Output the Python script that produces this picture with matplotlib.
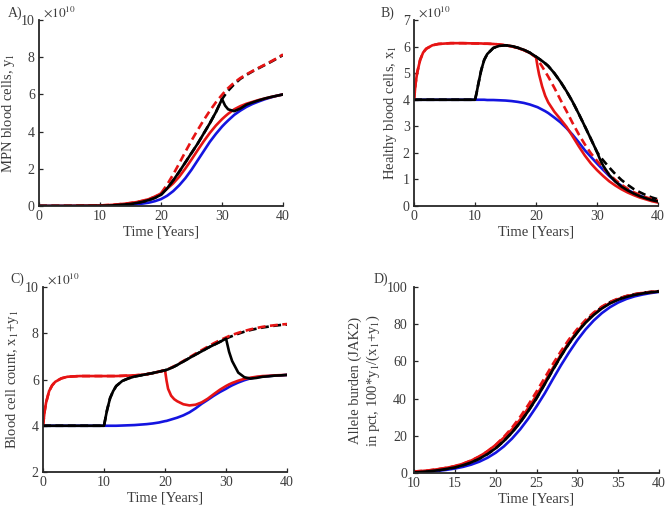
import matplotlib
matplotlib.use('Agg')
import matplotlib.pyplot as plt

# ---- panel A: MPN blood cells y1 (x 1e10)
a_t = [0, 5, 10, 12, 14, 15, 16, 17, 18, 19, 20, 21, 22, 23, 24, 25, 26, 27, 28, 29, 30,
       30.5, 31, 32, 33, 34, 35, 36, 37, 38, 39, 40]
a_blue = [0, 0, 0.01, 0.03, 0.05, 0.07, 0.1, 0.13, 0.18, 0.26, 0.37, 0.55, 0.8, 1.12, 1.5, 1.95,
          2.45, 2.95, 3.45, 3.88, 4.27, 4.44, 4.6, 4.9, 5.13, 5.33, 5.49, 5.62, 5.74, 5.84, 5.93, 6.0]
a_red = [0, 0.005, 0.03, 0.06, 0.12, 0.16, 0.21, 0.28, 0.37, 0.5, 0.68, 0.93, 1.22, 1.58, 2.02, 2.5,
         3.0, 3.48, 3.93, 4.33, 4.67, 4.82, 4.96, 5.2, 5.37, 5.5, 5.6, 5.7, 5.78, 5.86, 5.93, 6.0]
a_red_dash = [0, 0.005, 0.03, 0.06, 0.12, 0.16, 0.21, 0.28, 0.37, 0.5, 0.68, 1.15, 1.7, 2.3, 2.92,
              3.52, 4.08, 4.62, 5.12, 5.58, 5.98, 6.17, 6.34, 6.64, 6.88, 7.08, 7.26, 7.43, 7.6,
              7.77, 7.95, 8.15]
a_black = [0, 0, 0.01, 0.03, 0.08, 0.11, 0.16, 0.23, 0.32, 0.44, 0.6, 0.95, 1.38, 1.85, 2.35, 2.85,
           3.35, 3.9, 4.45, 5.05, 5.75, 5.4, 5.2, 5.1, 5.24, 5.45, 5.57, 5.68, 5.78, 5.86, 5.93, 6.0]
a_black_dash = [0, 0, 0.01, 0.03, 0.08, 0.11, 0.16, 0.23, 0.32, 0.44, 0.6, 0.95, 1.38, 1.85, 2.35,
                2.85, 3.35, 3.9, 4.45, 5.05, 5.75, 5.98, 6.2, 6.55, 6.84, 7.05, 7.24, 7.41, 7.58,
                7.75, 7.93, 8.12]

# ---- panels B and C share a time grid
bc_t = [0, 0.25, 0.5, 1, 1.5, 2, 3, 4, 6, 8, 10, 10.25, 10.5, 11, 11.5, 12, 13, 14, 15, 16, 17,
        18, 19, 20, 20.25, 20.5, 21, 21.5, 22, 23, 24, 25, 26, 27, 28, 29, 30, 30.5, 31, 32, 33,
        34, 35, 36, 37, 38, 39, 40]

# panel B: healthy blood cells x1 (x 1e10)
b_blue = [4.0] * 15 + [3.99, 3.99, 3.98, 3.97, 3.95, 3.92, 3.88, 3.82, 3.74, 3.72, 3.69, 3.63,
                       3.57, 3.5, 3.33, 3.15, 2.93, 2.68, 2.4, 2.1, 1.85, 1.6, 1.48, 1.36, 1.13,
                       0.93, 0.76, 0.61, 0.49, 0.39, 0.3, 0.23, 0.17]
b_red = [4.0, 4.6, 5.0, 5.5, 5.78, 5.92, 6.05, 6.1, 6.13, 6.13, 6.12, 6.12, 6.12, 6.12, 6.11,
         6.11, 6.1, 6.08, 6.05, 6.01, 5.95, 5.87, 5.76, 5.6, 5.25, 4.95, 4.5, 4.15, 3.9, 3.55,
         3.27, 2.98, 2.62, 2.25, 1.9, 1.6, 1.35, 1.24, 1.13, 0.93, 0.77, 0.63, 0.51, 0.41, 0.32,
         0.25, 0.18, 0.13]
b_red_dash = [4.0, 4.6, 5.0, 5.5, 5.78, 5.92, 6.05, 6.1, 6.13, 6.13, 6.12, 6.12, 6.12, 6.12,
              6.11, 6.11, 6.1, 6.08, 6.05, 6.01, 5.95, 5.87, 5.76, 5.6, 5.52, 5.43, 5.25, 5.06,
              4.87, 4.45, 4.0, 3.57, 3.12, 2.7, 2.32, 1.98, 1.7, 1.56, 1.43, 1.19, 0.98, 0.8,
              0.65, 0.52, 0.42, 0.33, 0.26, 0.2]
b_black = [4.0] * 11 + [4.25, 4.55, 5.1, 5.5, 5.72, 5.95, 6.03, 6.05, 6.02, 5.96, 5.88, 5.77,
                        5.62, 5.58, 5.54, 5.46, 5.37, 5.27, 5.0, 4.68, 4.32, 3.92, 3.47, 3.0,
                        2.52, 2.03, 1.75, 1.52, 1.17, 0.92, 0.73, 0.59, 0.47, 0.37, 0.29, 0.22,
                        0.17]
b_black_dash = [4.0] * 11 + [4.25, 4.55, 5.1, 5.5, 5.72, 5.95, 6.03, 6.05, 6.02, 5.96, 5.88,
                             5.77, 5.62, 5.58, 5.54, 5.46, 5.37, 5.27, 5.0, 4.68, 4.32, 3.92,
                             3.47, 3.0, 2.52, 2.03, 1.86, 1.72, 1.45, 1.2, 0.98, 0.8, 0.64,
                             0.52, 0.41, 0.32, 0.25]

# panel C: blood cell count x1+y1 (x 1e10)
c_blue = [4.0] * 16 + [4.01, 4.02, 4.03, 4.05, 4.07, 4.1, 4.14, 4.2, 4.21, 4.23, 4.27, 4.31,
                       4.35, 4.45, 4.58, 4.75, 4.95, 5.12, 5.3, 5.46, 5.6, 5.68, 5.75, 5.87,
                       5.97, 6.05, 6.1, 6.13, 6.15, 6.17, 6.18, 6.2]
c_red = [4.0, 4.6, 5.0, 5.5, 5.75, 5.9, 6.05, 6.12, 6.15, 6.15, 6.15, 6.15, 6.15, 6.15, 6.15,
         6.15, 6.16, 6.17, 6.18, 6.2, 6.23, 6.28, 6.34, 6.4, 5.95, 5.6, 5.3, 5.15, 5.06, 4.93,
         4.88, 4.91, 5.01, 5.17, 5.37, 5.56, 5.72, 5.79, 5.85, 5.95, 6.03, 6.08, 6.12, 6.15,
         6.16, 6.18, 6.19, 6.2]
c_red_dash = [4.0, 4.6, 5.0, 5.5, 5.75, 5.9, 6.05, 6.12, 6.15, 6.15, 6.15, 6.15, 6.15, 6.15,
              6.15, 6.15, 6.16, 6.17, 6.18, 6.2, 6.23, 6.28, 6.34, 6.4, 6.42, 6.45, 6.51, 6.58,
              6.65, 6.8, 6.96, 7.12, 7.27, 7.42, 7.57, 7.7, 7.82, 7.88, 7.93, 8.02, 8.1, 8.17,
              8.23, 8.28, 8.32, 8.35, 8.38, 8.4]
c_black = [4.0] * 11 + [4.35, 4.68, 5.2, 5.5, 5.72, 5.94, 6.05, 6.13, 6.18, 6.23, 6.28, 6.34,
                        6.4, 6.42, 6.44, 6.5, 6.56, 6.63, 6.78, 6.93, 7.08, 7.22, 7.37, 7.5,
                        7.63, 7.77, 7.2, 6.8, 6.3, 6.1, 6.04, 6.07, 6.12, 6.14, 6.17, 6.18, 6.2]
c_black_dash = [4.0] * 11 + [4.35, 4.68, 5.2, 5.5, 5.72, 5.94, 6.05, 6.13, 6.18, 6.23, 6.28,
                             6.34, 6.4, 6.42, 6.44, 6.5, 6.56, 6.63, 6.78, 6.93, 7.08, 7.22,
                             7.37, 7.5, 7.63, 7.77, 7.83, 7.88, 7.98, 8.07, 8.14, 8.2, 8.25,
                             8.29, 8.33, 8.36, 8.38]

# ---- panel D: allele burden in percent
d_t = list(range(10, 41))
d_blue = [0.3, 0.5, 0.8, 1.2, 1.7, 2.4, 3.3, 4.5, 6.1, 8.2, 10.9, 14.3, 18.5, 23.5, 29.3, 35.8,
          42.8, 50.5, 58.0, 65.0, 71.5, 77.2, 82.0, 86.0, 89.2, 91.7, 93.6, 95.0, 96.0, 96.8, 97.4]
d_red = [0.8, 1.1, 1.5, 2.1, 2.8, 3.7, 5.0, 6.7, 8.9, 11.7, 15.1, 19.0, 23.5, 28.8, 35.0, 41.8,
         49.0, 56.5, 63.8, 70.5, 76.3, 81.3, 85.5, 88.9, 91.5, 93.5, 95.0, 96.0, 96.8, 97.3, 97.7]
d_red_dash = [0.8, 1.1, 1.5, 2.1, 2.8, 3.7, 5.0, 6.7, 8.9, 11.7, 15.1, 19.4, 24.4, 30.2, 36.7,
              43.8, 51.2, 58.6, 65.6, 72.0, 77.5, 82.3, 86.3, 89.5, 92.0, 93.8, 95.2, 96.2, 96.9,
              97.4, 97.8]
d_black = [0.3, 0.6, 1.0, 1.5, 2.2, 3.0, 4.2, 5.7, 7.7, 10.2, 13.3, 17.2, 21.8, 27.2, 33.4, 40.2,
           47.8, 55.5, 63.0, 69.8, 75.7, 80.8, 85.0, 88.5, 91.2, 93.2, 94.7, 95.8, 96.6, 97.2, 97.6]
d_black_dash = [0.3, 0.6, 1.0, 1.5, 2.2, 3.0, 4.2, 5.7, 7.7, 10.2, 13.3, 17.2, 21.8, 27.2, 33.4,
                40.2, 47.8, 55.5, 63.0, 69.8, 75.7, 81.5, 85.8, 89.2, 91.8, 93.7, 95.1, 96.1,
                96.9, 97.4, 97.8]

plt.rcParams['font.family'] = ['Liberation Serif', 'DejaVu Serif']
plt.rcParams['mathtext.fontset'] = 'stix'
TXT = '#3c3c3c'
plt.rcParams['text.color'] = TXT
plt.rcParams['axes.labelcolor'] = TXT

BLUE = '#1414e0'
RED = '#e61414'
DASH = (0, (3.0, 1.7))
LW = 1.9

fig = plt.figure(figsize=(6.68, 5.08), dpi=100)


def draw(ax, t, blue, red, black, black_dash, red_dash):
    ax.plot(t, blue, color=BLUE, lw=LW)
    ax.plot(t, red, color=RED, lw=LW)
    ax.plot(t, black_dash, color='black', lw=LW, ls=DASH)
    ax.plot(t, red_dash, color=RED, lw=LW, ls=DASH)
    ax.plot(t, black, color='black', lw=LW)


def style(ax, xlim, xticks, ylim, yticks, ylabel, sci=True):
    ax.set_xlim(xlim)
    ax.set_ylim(ylim)
    ax.set_xticks(xticks)
    ax.set_yticks(yticks)
    for s in ['top', 'right']:
        ax.spines[s].set_visible(False)
    for s in ['left', 'bottom']:
        ax.spines[s].set_color('#262626')
        ax.spines[s].set_linewidth(1.3)
    ax.tick_params(direction='in', length=3, width=0.9, color='#262626', labelcolor=TXT,
                   labelsize=10, pad=3)
    ax.set_xlabel('Time [Years]', fontsize=10.5, labelpad=2)
    ax.set_ylabel(ylabel, fontsize=10.5, labelpad=3)
    if sci:
        ax.text(0.015, 1.0, r'$\times 10^{10}$', transform=ax.transAxes, fontsize=9.5,
                va='bottom', ha='left', color=TXT)


axA = fig.add_axes([0.0584, 0.5945, 0.3653, 0.366])
draw(axA, a_t, a_blue, a_red, a_black, a_black_dash, a_red_dash)
style(axA, (0, 40), [0, 10, 20, 30, 40], (0, 10), [0, 2, 4, 6, 8, 10], 'MPN blood cells, y$_1$')

axB = fig.add_axes([0.6198, 0.5945, 0.3653, 0.366])
draw(axB, bc_t, b_blue, b_red, b_black, b_black_dash, b_red_dash)
style(axB, (0, 40), [0, 10, 20, 30, 40], (0, 7), range(0, 8), 'Healthy blood cells, x$_1$')

axC = fig.add_axes([0.0644, 0.0709, 0.3653, 0.364])
draw(axC, bc_t, c_blue, c_red, c_black, c_black_dash, c_red_dash)
style(axC, (0, 40), [0, 10, 20, 30, 40], (2, 10), [2, 4, 6, 8, 10],
      'Blood cell count, x$_1$+y$_1$')

axD = fig.add_axes([0.6198, 0.0689, 0.3668, 0.366])
draw(axD, d_t, d_blue, d_red, d_black, d_black_dash, d_red_dash)
style(axD, (10, 40), [10, 15, 20, 25, 30, 35, 40], (0, 100), [0, 20, 40, 60, 80, 100],
      'Allele burden (JAK2)\nin pct, 100*y$_1$/(x$_1$+y$_1$)', sci=False)
axD.tick_params(axis='y', pad=5)

for lab, x, y in [('A)', 8, 13), ('B)', 381, 13), ('C)', 10, 279), ('D)', 374, 279)]:
    fig.text(x / 668, 1 - y / 508, lab, fontsize=10, va='center', ha='left')

fig.savefig('out.png', dpi=100)
